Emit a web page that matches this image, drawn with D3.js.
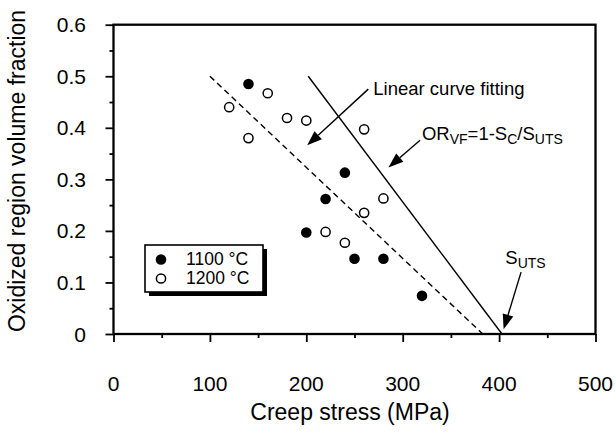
<!DOCTYPE html>
<html><head><meta charset="utf-8">
<script src="https://cdn.jsdelivr.net/npm/d3@7"></script>
<style>body{margin:0;background:#fff}svg{display:block}text{font-family:"Liberation Sans",Arial,Helvetica,sans-serif;fill:#000}</style>
</head><body><svg id="c" width="615" height="440"></svg>
<script>
// data
const stress1100 = [140, 240, 220, 200, 250, 280, 320];
const frac1100   = [0.485, 0.313, 0.262, 0.197, 0.146, 0.146, 0.074];
const stress1200 = [120, 140, 160, 180, 200, 260, 280, 260, 220, 240];
const frac1200   = [0.440, 0.380, 0.467, 0.419, 0.414, 0.397, 0.263, 0.235, 0.198, 0.177];
const fitLine    = [[100, 0.5], [383, 0]];
const theoryLine = [[202, 0.5], [403, 0]];
const xTicks = [0, 100, 200, 300, 400, 500];
const xMinor = [50, 150, 250, 350, 450];
const yTicks = [0, 0.1, 0.2, 0.3, 0.4, 0.5, 0.6];
const yMinor = [0.05, 0.15, 0.25, 0.35, 0.45, 0.55];
const xTickLabels = ["0", "100", "200", "300", "400", "500"];
const yTickLabels = ["0", "0.1", "0.2", "0.3", "0.4", "0.5", "0.6"];
const legendLabels = ["1100 \u00B0C", "1200 \u00B0C"];

const svg = d3.select("#c");
const x = d3.scaleLinear().domain([0, 500]).range([113.5, 595.5]);
const y = d3.scaleLinear().domain([0, 0.6]).range([334, 24.7]);

// ticks
const gx = svg.append("g").attr("transform", `translate(0,${y(0)})`)
  .call(d3.axisBottom(x).tickValues(xTicks).tickSize(8).tickFormat(""));
const gxm = svg.append("g").attr("transform", `translate(0,${y(0)})`)
  .call(d3.axisBottom(x).tickValues(xMinor).tickSize(4).tickFormat(""));
const gy = svg.append("g").attr("transform", `translate(${x(0)},0)`)
  .call(d3.axisLeft(y).tickValues(yTicks).tickSize(8).tickFormat(""));
const gym = svg.append("g").attr("transform", `translate(${x(0)},0)`)
  .call(d3.axisLeft(y).tickValues(yMinor).tickSize(4).tickFormat(""));
[gx, gxm, gy, gym].forEach(g => {
  g.select(".domain").remove();
  g.selectAll(".tick line").attr("stroke", "#000").attr("stroke-width", 1.8);
});

// tick labels
svg.append("g").selectAll("text").data(xTicks).join("text")
  .attr("x", d => x(d)).attr("y", 390.5).attr("text-anchor", "middle")
  .attr("font-size", 21).text((d, i) => xTickLabels[i]);
svg.append("g").selectAll("text").data(yTicks).join("text")
  .attr("x", 86).attr("y", d => y(d) + 7.5).attr("text-anchor", "end")
  .attr("font-size", 21).text((d, i) => yTickLabels[i]);

// axis titles
svg.append("text").attr("x", 350).attr("y", 420).attr("text-anchor", "middle")
  .attr("font-size", 23).text("Creep stress (MPa)");
svg.append("text").attr("transform", "translate(25,171) rotate(-90)").attr("text-anchor", "middle")
  .attr("font-size", 23).text("Oxidized region volume fraction");

// lines
const line = d3.line().x(d => x(d[0])).y(d => y(d[1]));
svg.append("path").attr("d", line(fitLine)).attr("fill", "none").attr("stroke", "#000")
  .attr("stroke-width", 1.4).attr("stroke-dasharray", "6,4");
svg.append("path").attr("d", line(theoryLine)).attr("fill", "none").attr("stroke", "#000")
  .attr("stroke-width", 1.4);

// points
svg.append("g").selectAll("circle").data(stress1200).join("circle")
  .attr("cx", d => x(d)).attr("cy", (d, i) => y(frac1200[i])).attr("r", 4.6)
  .attr("fill", "#fff").attr("stroke", "#000").attr("stroke-width", 1.5);
svg.append("g").selectAll("circle").data(stress1100).join("circle")
  .attr("cx", d => x(d)).attr("cy", (d, i) => y(frac1100[i])).attr("r", 5.3)
  .attr("fill", "#000");

// arrows
function arrow(p0, p1) {
  const x0 = x(p0[0]), y0 = y(p0[1]), x1 = x(p1[0]), y1 = y(p1[1]);
  const dx = x1 - x0, dy = y1 - y0, L = Math.hypot(dx, dy);
  const ux = dx / L, uy = dy / L, hl = 15, hw = 5.5;
  const bx = x1 - ux * hl, by = y1 - uy * hl;
  svg.append("line").attr("x1", x0).attr("y1", y0).attr("x2", bx).attr("y2", by)
    .attr("stroke", "#000").attr("stroke-width", 1.4);
  svg.append("path").attr("d", `M${x1},${y1}L${bx - uy * hw},${by + ux * hw}L${bx + uy * hw},${by - ux * hw}Z`)
    .attr("fill", "#000");
}
arrow([264.3, 0.475], [200.9, 0.366]);
arrow([318, 0.376], [285.2, 0.323]);
arrow([422.8, 0.12], [404.7, 0.009]);

// annotation texts
svg.append("text").attr("x", x(269.5)).attr("y", 95).attr("font-size", 18.5).text("Linear curve fitting");
const t2 = svg.append("text").attr("x", x(320)).attr("y", 139.5).attr("font-size", 18.5);
t2.append("tspan").text("OR");
t2.append("tspan").attr("font-size", 14).attr("dy", 4).text("VF");
t2.append("tspan").attr("dy", -4).text("=1-S");
t2.append("tspan").attr("font-size", 14).attr("dy", 4).text("C");
t2.append("tspan").attr("dy", -4).text("/S");
t2.append("tspan").attr("font-size", 14).attr("dy", 4).text("UTS");
const t3 = svg.append("text").attr("x", x(406.5)).attr("y", 264).attr("font-size", 18.5);
t3.append("tspan").text("S");
t3.append("tspan").attr("font-size", 14).attr("dy", 4).text("UTS");

// frame
svg.append("rect").attr("x", x(0)).attr("y", y(0.6)).attr("width", x(500) - x(0)).attr("height", y(0) - y(0.6))
  .attr("fill", "none").attr("stroke", "#000").attr("stroke-width", 2.3);

// legend
const lg = svg.append("g").attr("transform", "translate(145,245)");
lg.append("rect").attr("x", 4).attr("y", 4).attr("width", 118).attr("height", 47).attr("fill", "#000");
lg.append("rect").attr("x", 0).attr("y", 0).attr("width", 118).attr("height", 47).attr("fill", "#fff")
  .attr("stroke", "#000").attr("stroke-width", 1.6);
lg.append("circle").attr("cx", 16).attr("cy", 14.5).attr("r", 5.3).attr("fill", "#000");
lg.append("circle").attr("cx", 16).attr("cy", 33.5).attr("r", 4.6).attr("fill", "#fff").attr("stroke", "#000").attr("stroke-width", 1.5);
lg.selectAll("text.l").data(legendLabels).join("text").attr("class", "l")
  .attr("x", 41).attr("y", (d, i) => 19.5 + i * 19).attr("font-size", 17.5).text(d => d);
</script></body></html>
